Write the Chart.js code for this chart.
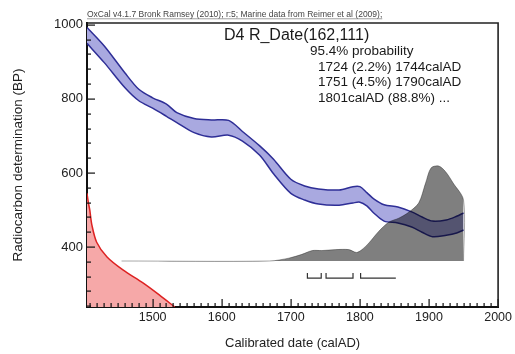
<!DOCTYPE html>
<html>
<head>
<meta charset="utf-8">
<script src="https://cdn.jsdelivr.net/npm/chart.js@4.4.0/dist/chart.umd.min.js"></script>
<style>
  body { margin: 0; background: #fff; }
  #wrap { width: 515px; height: 354px; }
</style>
</head>
<body>
<div id="wrap"><canvas id="oxcalChart"></canvas></div>
<script>
// calibration curve band (calAD vs BP)
var calYears = [1405, 1430, 1460, 1480, 1500, 1520, 1535, 1560, 1585, 1610, 1630, 1655, 1675, 1700, 1720, 1740, 1770, 1790, 1800, 1810, 1820, 1835, 1855, 1875, 1890, 1905, 1925, 1940, 1950];
var calUpper = [993, 943, 870, 826, 803, 786, 763, 747, 743, 742, 712, 673, 637, 583, 565, 557, 554, 563, 563, 547, 530, 514, 508, 495, 481, 470, 473, 483, 492];
var calLower = [950, 898, 830, 795, 775, 753, 736, 709, 697, 702, 686, 648, 598, 545, 527, 516, 513, 519, 521, 511, 492, 470, 465, 454, 440, 428, 432, 438, 446];

// posterior probability (grey), arbitrary units
var probYears = [1455, 1669, 1697, 1716, 1731, 1745, 1765, 1784, 1795, 1803, 1813, 1827, 1842, 1856, 1870, 1885, 1895, 1903, 1914, 1924, 1935, 1950, 1950];
var probValues = [0, 0, 3, 7, 11, 11, 12, 12, 9, 12, 19, 31, 41, 45, 51, 61, 82, 98, 100, 94, 82, 64, 0];

// radiocarbon date 162 +/- 111 BP (red), drawn along the BP axis
var dateYears = [1405, 1407, 1409, 1412, 1419, 1434, 1457, 1486, 1510, 1532];
var dateBP = [545, 520, 500, 460, 413, 373, 338, 303, 270, 238];

// 95.4% ranges
var rangeFrom = [1724, 1751, 1801];
var rangeTo = [1744, 1790, 1852];
var rangeOpen = [false, false, true];
var rangeText = ['1724 (2.2%) 1744calAD', '1751 (4.5%) 1790calAD', '1801calAD (88.8%) ...'];

var xTicks = [1500, 1600, 1700, 1800, 1900, 2000];
var yTicks = [400, 600, 800, 1000];

var bracketLevel = 316;
var bracketTop = 330;
var fontFam = '"Liberation Sans", Arial, sans-serif';

function pts(xs, ys) {
    var out = [];
    for (var i = 0; i < xs.length; i++) out.push({x: xs[i], y: ys[i]});
    return out;
}

var bracketData = [];
for (var i = 0; i < rangeFrom.length; i++) {
    bracketData.push({x: rangeFrom[i], y: bracketTop}, {x: rangeFrom[i], y: bracketLevel}, {x: rangeTo[i], y: bracketLevel});
    if (!rangeOpen[i]) bracketData.push({x: rangeTo[i], y: bracketTop});
    bracketData.push({x: rangeTo[i], y: null});
}

var oxcalDecor = {
    id: 'oxcalDecor',
    afterDatasetDraw: function (chart, args) {
        // grey distribution multiplies over the blue band
        if (args.index === 1) chart.ctx.globalCompositeOperation = 'multiply';
        if (args.index === 2) chart.ctx.globalCompositeOperation = 'source-over';
    },
    afterDraw: function (chart) {
        var c = chart.ctx, a = chart.chartArea;
        var xs = chart.scales.x, ys = chart.scales.y;
        c.save();
        c.globalCompositeOperation = 'source-over';
        c.globalAlpha = 1;
        c.fillStyle = '#111';
        var left = Math.round(a.left), bottom = Math.round(a.bottom);
        for (var yr = 1410; yr <= 2000; yr += 10) {
            var px = Math.round(xs.getPixelForValue(yr));
            var len = (yr % 100 === 0) ? 8 : 4;
            c.fillRect(px - 0.5, bottom - len, 1.2, len);
        }
        for (var v = 240; v <= 1000; v += 40) {
            var py = Math.round(ys.getPixelForValue(v));
            var l2 = (v % 200 === 0) ? 8 : 4;
            c.fillRect(left, py - 0.5, l2, 1.2);
        }

        // top and right frame
        c.lineWidth = 1.6;
        c.strokeStyle = '#222';
        c.beginPath();
        c.moveTo(a.left, a.top);
        c.lineTo(a.right, a.top);
        c.lineTo(a.right, a.bottom);
        c.stroke();

        // header
        c.fillStyle = '#444';
        c.font = '8.5px ' + fontFam;
        c.textBaseline = 'alphabetic';
        c.textAlign = 'left';
        var hdr = 'OxCal v4.1.7 Bronk Ramsey (2010); r:5; Marine data from Reimer et al (2009);';
        c.fillText(hdr, a.left, 17);
        var w = c.measureText(hdr).width;
        c.fillStyle = '#777';
        c.fillRect(a.left, 18.5, w, 0.7);

        c.fillStyle = '#1a1a1a';
        c.font = '16px ' + fontFam;
        c.fillText('D4 R_Date(162,111)', 224, 39.5);
        c.font = '13.5px ' + fontFam;
        c.fillText('95.4% probability', 310, 54.5);
        for (var k = 0; k < rangeText.length; k++) {
            c.fillText(rangeText[k], 318, 70.5 + k * 15.8);
        }
        c.restore();
    }
};

var chartData = {
    datasets: [
        {
            data: pts(calYears, calUpper),
            borderColor: '#2e2e96',
            backgroundColor: '#a9a9e0',
            borderWidth: 1.5,
            fill: '+1',
            pointRadius: 0,
            tension: 0.3,
            order: 5
        },
        {
            data: pts(calYears, calLower),
            borderColor: '#2e2e96',
            borderWidth: 1.5,
            fill: false,
            pointRadius: 0,
            tension: 0.3,
            order: 4
        },
        {
            data: pts(probYears, probValues),
            yAxisID: 'yp',
            borderColor: '#a8a8a8',
            backgroundColor: '#7f7f7f',
            borderWidth: 1,
            fill: {value: 0},
            pointRadius: 0,
            tension: 0.3,
            order: 3
        },
        {
            data: pts(dateYears, dateBP),
            borderColor: '#dd2222',
            backgroundColor: '#f6a8a8',
            borderWidth: 1.5,
            fill: 'start',
            pointRadius: 0,
            tension: 0.3,
            order: 2
        },
        {
            data: bracketData,
            borderColor: '#333',
            borderWidth: 1.2,
            fill: false,
            pointRadius: 0,
            tension: 0,
            spanGaps: false,
            order: 1
        }
    ]
};

function plainLabel(value) {
    return String(value);
}

var chartOptions = {
    responsive: true,
    maintainAspectRatio: false,
    animation: false,
    devicePixelRatio: 1,
    layout: { padding: { top: 23, right: 15, left: 0, bottom: 0 } },
    plugins: { legend: { display: false }, tooltip: { enabled: false } },
    scales: {
        x: {
            type: 'linear',
            min: 1405,
            max: 2000,
            afterFit: function (s) { s.height = 47; },
            grid: { display: false, drawTicks: false },
            border: { display: true, color: '#111', width: 2 },
            afterBuildTicks: function (s) { s.ticks = xTicks.map(function (t) { return {value: t}; }); },
            ticks: { autoSkip: false, maxRotation: 0, padding: 3, color: '#222', font: { family: fontFam, size: 12.5 }, callback: plainLabel },
            title: { display: true, text: 'Calibrated date (calAD)', color: '#222', font: { family: fontFam, size: 13 }, padding: { top: 0, bottom: 3 } }
        },
        y: {
            min: 238,
            max: 1005,
            afterFit: function (s) { s.width = 87; },
            grid: { display: false, drawTicks: false },
            border: { display: true, color: '#111', width: 2 },
            afterBuildTicks: function (s) { s.ticks = yTicks.map(function (t) { return {value: t}; }); },
            ticks: { padding: 4, color: '#222', font: { family: fontFam, size: 13 }, callback: plainLabel },
            title: { display: true, text: 'Radiocarbon determination (BP)', color: '#222', font: { family: fontFam, size: 13.5 }, padding: { top: 10, bottom: 0 } }
        },
        yp: {
            display: false,
            min: -48.4,
            max: 250.5
        }
    }
};

var chartCtx = document.getElementById('oxcalChart').getContext('2d');
new Chart(chartCtx, { type: 'line', data: chartData, options: chartOptions, plugins: [oxcalDecor] });
</script>
</body>
</html>
